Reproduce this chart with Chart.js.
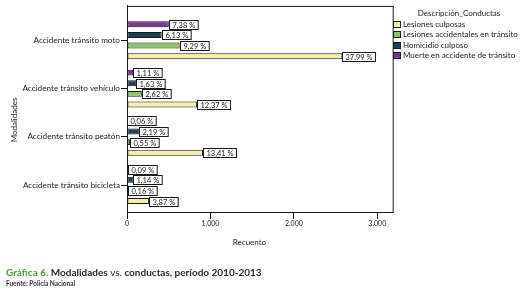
<!DOCTYPE html>
<html><head><meta charset="utf-8">
<script src="https://cdn.jsdelivr.net/npm/chart.js@4.4.0/dist/chart.umd.min.js"></script>
<style>
html,body{margin:0;padding:0;background:#fff;}
#wrap{position:relative;width:523px;height:292px;}
canvas{position:absolute;left:0;top:0;}
#cap{position:absolute;left:6px;top:266px;font-family:Lato,sans-serif;font-weight:700;font-size:10px;color:#2a2a2a;white-space:nowrap;line-height:12px;}
#cap .g{color:#4e9a3c;}
#cap .v{font-weight:400;}
#src{position:absolute;left:6px;top:280px;font-family:Lato,sans-serif;font-weight:700;font-size:6.5px;color:#333;white-space:nowrap;line-height:8px;}
</style></head>
<body><div id="wrap"><canvas id="c" width="523" height="292"></canvas>
<div id="cap"><span class="g">Gráfica 6.</span> Modalidades <span class="v">vs.</span> conductas, período 2010-2013</div>
<div id="src">Fuente: Policía Nacional</div></div>
<script>
const categories = ["Accidente tránsito moto","Accidente tránsito vehículo","Accidente tránsito peatón","Accidente tránsito bicicleta"];
const muerte = [501, 75, 4, 6];
const homicidio = [416, 111, 149, 77];
const lesionesAcc = [631, 178, 37, 11];
const lesionesCulp = [2581, 840, 911, 263];
const pctMuerte = ["7,38 %","1,11 %","0,06 %","0,09 %"];
const pctHomicidio = ["6,13 %","1,63 %","2,19 %","1,14 %"];
const pctLesionesAcc = ["9,29 %","2,62 %","0,55 %","0,16 %"];
const pctLesionesCulp = ["37,99 %","12,37 %","13,41 %","3,87 %"];
const xTicks = [0, 1000, 2000, 3000];
const legendTitle = "Descripción_Conductas";
const xTitle = "Recuento";
const yTitle = "Modalidades";

const FONT = "Lato, sans-serif";
const datasets = [
  {label:"Muerte en accidente de tránsito", data:muerte, pct:pctMuerte, backgroundColor:"#7b3592"},
  {label:"Homicidio culposo", data:homicidio, pct:pctHomicidio, backgroundColor:"#1f3d5c"},
  {label:"Lesiones accidentales en tránsito", data:lesionesAcc, pct:pctLesionesAcc, backgroundColor:"#8dc46a"},
  {label:"Lesiones culposas", data:lesionesCulp, pct:pctLesionesCulp, backgroundColor:"#f5f0a8"}
].map(d=>Object.assign(d,{borderColor:"#1a1a1a",borderWidth:1,borderSkipped:false,categoryPercentage:0.88,barPercentage:0.56}));

const extras = {
  id:"extras",
  afterDatasetsDraw(chart){
    const ctx = chart.ctx, a = chart.chartArea;
    ctx.save();
    ctx.strokeStyle="#1a1a1a"; ctx.lineWidth=1;
    ctx.beginPath();
    ctx.moveTo(a.left, a.top+0.5); ctx.lineTo(a.right+0.5, a.top+0.5);
    ctx.moveTo(a.right+0.5, a.top); ctx.lineTo(a.right+0.5, a.bottom);
    ctx.stroke();
    ctx.font = "7.5px "+FONT;
    ctx.textBaseline="middle"; ctx.textAlign="left";
    chart.data.datasets.forEach((ds,i)=>{
      const meta = chart.getDatasetMeta(i);
      meta.data.forEach((bar,j)=>{
        const t = ds.pct[j];
        const w = ctx.measureText(t).width + 6;
        const x0 = Math.round(bar.x)+0.5, y0 = Math.round(bar.y-4.5)+0.5;
        ctx.fillStyle="#fff"; ctx.fillRect(x0,y0,w,9);
        ctx.strokeStyle="#1a1a1a"; ctx.strokeRect(x0,y0,w,9);
        ctx.fillStyle="#222"; ctx.fillText(t, x0+3, y0+5);
      });
    });
    ctx.fillStyle="#222"; ctx.font="8px "+FONT; ctx.textAlign="center";
    ctx.fillText(xTitle, 249.5, 242);
    ctx.save(); ctx.translate(14,120); ctx.rotate(-Math.PI/2); ctx.fillText(yTitle,0,0); ctx.restore();
    ctx.fillText(legendTitle, 459, 13);
    ctx.textAlign="left";
    const order = chart.data.datasets.slice().reverse();
    order.forEach((ds,k)=>{
      const y = 24 + k*10.3;
      ctx.fillStyle = ds.backgroundColor;
      ctx.fillRect(393.5, Math.round(y-3)+0.5, 7, 6);
      ctx.strokeStyle="#1a1a1a"; ctx.strokeRect(393.5, Math.round(y-3)+0.5, 7, 6);
      ctx.fillStyle="#222"; ctx.fillText(ds.label, 403, y+0.5);
    });
    ctx.restore();
  }
};

new Chart(document.getElementById("c"), {
  type:"bar",
  data:{labels:categories, datasets},
  options:{
    indexAxis:"y", responsive:false, animation:false,
    layout:{padding:{left:0, top:5, right:130.3, bottom:40}},
    plugins:{legend:{display:false}, tooltip:{enabled:false}},
    scales:{
      x:{
        min:0, max:3185,
        afterBuildTicks(s){ s.ticks = xTicks.map(v=>({value:v})); },
        afterFit(s){ s.height = 39; },
        grid:{drawOnChartArea:false, drawTicks:true, tickLength:6, color:"#1a1a1a"},
        border:{display:true, color:"#1a1a1a", width:1},
        ticks:{color:"#222", font:{family:FONT, size:7}, padding:1,
          callback(v){ return v===0 ? "0" : (v/1000).toFixed(0)+".000"; }}
      },
      y:{
        afterBuildTicks(s){ s._startValue = -0.7115; s._valueRange = 4.289; },
        afterFit(s){ s.width = 127; },
        grid:{drawOnChartArea:false, drawTicks:true, tickLength:6, offset:false, color:"#1a1a1a"},
        border:{display:true, color:"#1a1a1a", width:1},
        ticks:{color:"#222", font:{family:FONT, size:8.2}, padding:1}
      }
    }
  },
  plugins:[extras]
});
</script></body></html>
